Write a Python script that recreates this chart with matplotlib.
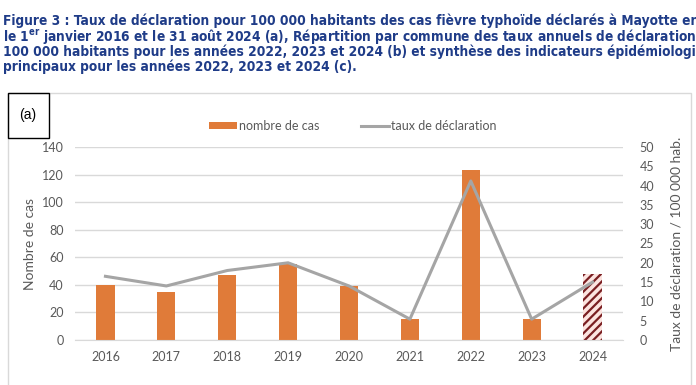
import matplotlib.pyplot as plt
from matplotlib.patches import Rectangle
import numpy as np

years = ['2016', '2017', '2018', '2019', '2020', '2021', '2022', '2023', '2024']
nb_cas = [40, 35, 47, 55, 39, 15, 123, 15, 48]
taux = [16.5, 14.0, 18.0, 20.0, 14.0, 5.4, 41.2, 5.4, 15.0]

title_lines = [
    "Figure 3 : Taux de déclaration pour 100 000 habitants des cas fièvre typhoïde déclarés à Mayotte entre",
    r"le 1$^{\mathregular{er}}$ janvier 2016 et le 31 août 2024 (a), Répartition par commune des taux annuels de déclaration pour",
    "100 000 habitants pour les années 2022, 2023 et 2024 (b) et synthèse des indicateurs épidémiologiques",
    "principaux pour les années 2022, 2023 et 2024 (c).",
]

orange = '#E07B39'
grey_line = '#A5A5A5'
txt = '#595959'
font = ['Lato', 'DejaVu Sans']

fig = plt.figure(figsize=(6.96, 3.85), dpi=100)

# titre
for i, line in enumerate(title_lines):
    fig.text(3 / 696, 1 - (21 + i * 15.3) / 385, line, color='#1F3C88', fontsize=9.8,
             fontweight='bold', fontstretch='condensed', family=['DejaVu Sans'],
             va='center', ha='left')

# cadre du graphique
fig.patches.append(Rectangle((8 / 696, -0.01), 683 / 696, 1 - 93 / 385 + 0.01,
                             transform=fig.transFigure, fill=False,
                             edgecolor='#D9D9D9', lw=1))
fig.patches.append(Rectangle((8 / 696, 1 - 138 / 385), 41 / 696, 45 / 385,
                             transform=fig.transFigure, fill=False,
                             edgecolor='black', lw=1))
fig.text(28 / 696, 1 - 115 / 385, '(a)', fontsize=10, ha='center', va='center',
         family=['Liberation Sans', 'DejaVu Sans'])

ax = fig.add_axes([75 / 696, 1 - 340 / 385, 548 / 696, 193 / 385])
x = np.arange(len(years))
ax.bar(x[:-1], nb_cas[:-1], width=0.3, color=orange, zorder=2,
       label='nombre de cas')
plt.rcParams['hatch.linewidth'] = 1.6
ax.bar(x[-1:], nb_cas[-1:], width=0.3, color='#FCE4E0', hatch='////',
       edgecolor='#7A1F22', lw=0, zorder=2)
ax.set_ylim(0, 140)
ax.set_xlim(-0.5, len(years) - 0.5)
ax.set_yticks(range(0, 141, 20))
ax.set_xticks(x)
ax.set_xticklabels(years)
ax.grid(axis='y', color='#D9D9D9', lw=1, zorder=0)
for s in ['top', 'right', 'left']:
    ax.spines[s].set_visible(False)
ax.spines['bottom'].set_color('#D9D9D9')
ax.tick_params(length=0, colors=txt, labelsize=9, pad=8)
for lab in ax.get_xticklabels() + ax.get_yticklabels():
    lab.set_family(font)
ax.set_ylabel('Nombre de cas', color=txt, fontsize=10, family=font, labelpad=4)

ax2 = ax.twinx()
ax2.plot(x, taux, color=grey_line, lw=2.2, zorder=3, label='taux de déclaration')
ax2.set_ylim(0, 50)
ax2.set_yticks(range(0, 51, 5))
for s in ax2.spines.values():
    s.set_visible(False)
ax2.tick_params(length=0, colors=txt, labelsize=9, pad=12)
for lab in ax2.get_yticklabels():
    lab.set_family(font)
ax2.set_ylabel('Taux de déclaration / 100 000 hab.', color=txt, fontsize=10,
               family=font, labelpad=12)

h1, l1 = ax.get_legend_handles_labels()
h2, l2 = ax2.get_legend_handles_labels()
fig.legend(h1 + h2, l1 + l2, loc='center', bbox_to_anchor=(353 / 696, 1 - 126 / 385),
           ncol=2, frameon=False, prop={'family': font, 'size': 9},
           labelcolor=txt, handlelength=2.2, handleheight=0.5, columnspacing=3.3,
           handletextpad=0.2)

fig.savefig('out.png', dpi=100)
